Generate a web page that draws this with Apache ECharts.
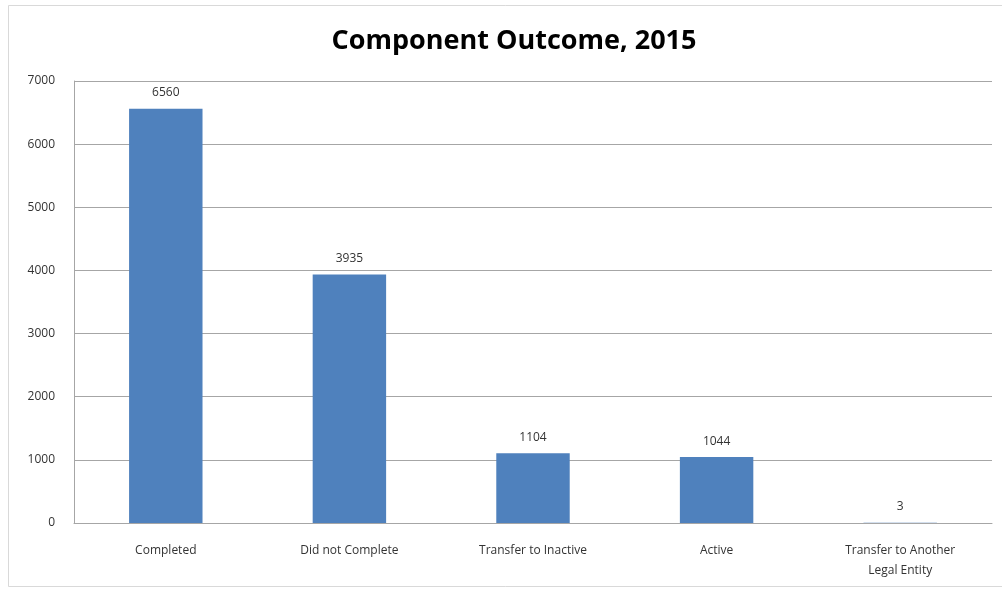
<!DOCTYPE html>
<html><head><meta charset="utf-8">
<script src="https://cdn.jsdelivr.net/npm/echarts@6/dist/echarts.min.js"></script>
<style>html,body{margin:0;padding:0;background:#fff}#c{width:1002px;height:590px}</style>
</head><body><div id="c"></div>
<script>
const categories = ["Completed", "Did not Complete", "Transfer to Inactive", "Active", "Transfer to Another\nLegal Entity"];
const values = [6560, 3935, 1104, 1044, 3];
const yTicks = [0, 1000, 2000, 3000, 4000, 5000, 6000, 7000];
const titleText = "Component Outcome, 2015";

const chart = echarts.init(document.getElementById('c'), null, {renderer: 'canvas'});
chart.setOption({
  backgroundColor: '#fff',
  animation: false,
  graphic: [{
    type: 'rect', silent: true,
    shape: {x: 8.5, y: 5.5, width: 1010, height: 581},
    style: {fill: 'none', stroke: '#d9d9d9', lineWidth: 1}
  }],
  title: {
    text: titleText, left: 509, top: 23, textAlign: 'center',
    textStyle: {fontFamily: 'Open Sans', fontWeight: 'bold', fontSize: 27, color: '#000'}
  },
  grid: {left: 74, top: 81, right: 10, bottom: 67, containLabel: false},
  xAxis: {
    type: 'category', data: categories,
    axisLine: {lineStyle: {color: '#a6a6a6', width: 1}},
    axisTick: {show: false},
    axisLabel: {color: '#333', fontFamily: 'Open Sans', fontSize: 12, margin: 18, lineHeight: 20, interval: 0}
  },
  yAxis: {
    type: 'value', min: yTicks[0], max: yTicks[yTicks.length - 1], interval: 1000,
    axisLine: {show: true, lineStyle: {color: '#a6a6a6', width: 1}},
    axisTick: {show: false},
    splitLine: {lineStyle: {color: '#a6a6a6', width: 1}},
    axisLabel: {color: '#333', fontFamily: 'Open Sans', fontSize: 12, margin: 19, formatter: v => String(v)}
  },
  series: [{
    type: 'bar', data: values, barWidth: '40%',
    itemStyle: {color: '#4f81bd'},
    label: {show: true, position: 'top', distance: 10, color: '#333', fontFamily: 'Open Sans', fontSize: 12}
  }]
});
</script></body></html>
